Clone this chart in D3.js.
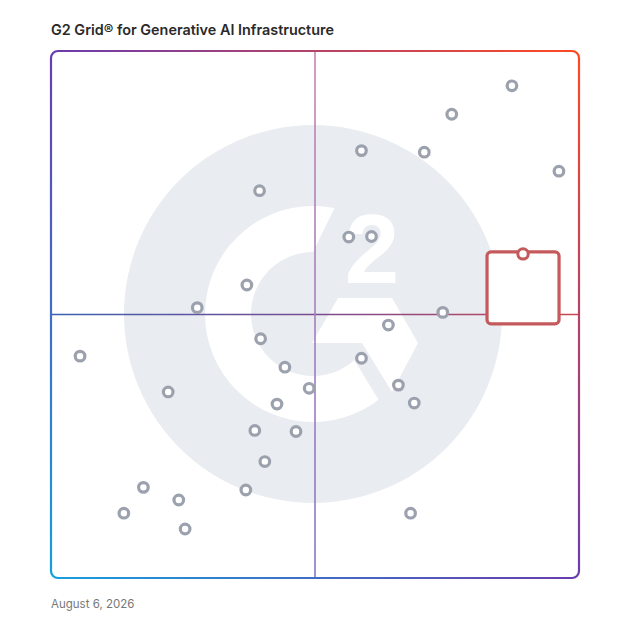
<!DOCTYPE html>
<html>
<head>
<meta charset="utf-8">
<script src="https://cdn.jsdelivr.net/npm/d3@7"></script>
<style>
  html, body { margin: 0; padding: 0; background: #fff; }
  svg { display: block; }
</style>
</head>
<body>
<svg id="grid"></svg>
<script>
// 製品の位置 (0-100, 右が満足度 / 上が市場での存在感)
var productX = [58.8, 70.7, 39.5, 56.4, 60.7, 37.1, 27.7, 74.2, 63.9, 39.7,
                58.8, 44.3, 22.2, 48.9, 65.8, 68.8, 42.8, 38.6, 46.4, 40.5,
                17.5, 36.9, 24.2, 13.8, 68.1, 87.3, 75.9, 96.2, 5.5, 25.4];
var productY = [81.1, 80.8, 73.5, 64.7, 64.8, 55.6, 51.3, 50.4, 48.0, 45.4,
                41.7, 40.0, 35.3, 36.0, 36.6, 33.2, 33.0, 28.0, 27.8, 22.1,
                17.2, 16.7, 14.8, 12.3, 12.3, 93.4, 88.0, 77.2, 42.1, 9.3];
var highlightX = [89.4];
var highlightY = [61.5];
var titleText = ["G2 Grid\u00ae for Generative AI Infrastructure"];
var dateText = ["August 6, 2026"];

var width = 628;
var height = 628;
// window.top と被らないように名前を変える
var gridLeft = 51, gridRight = 579, gridTop = 51, gridBottom = 578;

var svg = d3.select("#grid")
    .attr("width", width)
    .attr("height", height);

var x = d3.scaleLinear().domain([0, 100]).range([gridLeft, gridRight]);
var y = d3.scaleLinear().domain([0, 100]).range([gridBottom, gridTop]);

var defs = svg.append("defs");

// 枠のグラデーション (左下 → 右上)
var frameGrad = defs.append("linearGradient")
    .attr("id", "frameGrad")
    .attr("gradientUnits", "userSpaceOnUse")
    .attr("x1", gridLeft).attr("y1", gridBottom)
    .attr("x2", gridRight).attr("y2", gridTop);
frameGrad.append("stop").attr("offset", "0%").attr("stop-color", "#169fdc");
frameGrad.append("stop").attr("offset", "50%").attr("stop-color", "#6a3cae");
frameGrad.append("stop").attr("offset", "100%").attr("stop-color", "#ff4a22");

var hGrad = defs.append("linearGradient")
    .attr("id", "hGrad")
    .attr("gradientUnits", "userSpaceOnUse")
    .attr("x1", gridLeft).attr("y1", 0)
    .attr("x2", gridRight).attr("y2", 0);
hGrad.append("stop").attr("offset", "0%").attr("stop-color", "#3b60b2");
hGrad.append("stop").attr("offset", "50%").attr("stop-color", "#7a4b92");
hGrad.append("stop").attr("offset", "100%").attr("stop-color", "#cc4650");

var vGrad = defs.append("linearGradient")
    .attr("id", "vGrad")
    .attr("gradientUnits", "userSpaceOnUse")
    .attr("x1", 0).attr("y1", gridTop)
    .attr("x2", 0).attr("y2", gridBottom);
vGrad.append("stop").attr("offset", "0%").attr("stop-color", "#c487b2");
vGrad.append("stop").attr("offset", "100%").attr("stop-color", "#8577c6");

// 背景のG2ロゴ
var cx = 313, cy = 314;
var logo = svg.append("g");
var logoGray = "#e9ecf0";
logo.append("circle")
    .attr("cx", cx).attr("cy", cy).attr("r", 189)
    .attr("fill", logoGray);
logo.append("path")
    .attr("transform", "translate(" + cx + "," + cy + ")")
    .attr("d", d3.arc().innerRadius(62).outerRadius(108).startAngle(0).endAngle(Math.PI * 2)())
    .attr("fill", "#fff");
// Gの切れ目
logo.append("polygon")
    .attr("points", "308,262 341,195 460,195 460,430 391,420 336,330")
    .attr("fill", logoGray);
logo.append("polygon")
    .attr("points", "338,298 392,298 418,343 392,392 362,343 312,343")
    .attr("fill", "#fff");
logo.append("text")
    .attr("x", 372)
    .attr("y", 283)
    .attr("text-anchor", "middle")
    .attr("font-family", "Liberation Sans, Arial, sans-serif")
    .attr("font-weight", "bold")
    .attr("font-size", "98px")
    .attr("fill", "#fff")
    .text("2");

// 十字線
svg.append("line")
    .attr("x1", gridLeft).attr("x2", gridRight)
    .attr("y1", y(50)).attr("y2", y(50))
    .attr("stroke", "url(#hGrad)")
    .attr("stroke-width", 1.6);
svg.append("line")
    .attr("x1", x(50)).attr("x2", x(50))
    .attr("y1", gridTop).attr("y2", gridBottom)
    .attr("stroke", "url(#vGrad)")
    .attr("stroke-width", 1.6);

// 枠
svg.append("rect")
    .attr("x", gridLeft).attr("y", gridTop)
    .attr("width", gridRight - gridLeft).attr("height", gridBottom - gridTop)
    .attr("rx", 7).attr("ry", 7)
    .attr("fill", "none")
    .attr("stroke", "url(#frameGrad)")
    .attr("stroke-width", 2.2);

// 製品の点
var points = d3.range(productX.length).map(function (i) {
    return { x: productX[i], y: productY[i] };
});
svg.selectAll(".product")
    .data(points)
    .enter()
    .append("circle")
    .attr("class", "product")
    .attr("cx", function (d) { return x(d.x); })
    .attr("cy", function (d) { return y(d.y); })
    .attr("r", 4.8)
    .attr("fill", "#fff")
    .attr("stroke", "#9ca1ae")
    .attr("stroke-width", 3.2);

// 注目の製品 (赤い枠)
var hl = { x: highlightX[0], y: highlightY[0] };
var boxSize = 72;
svg.append("rect")
    .attr("x", x(hl.x) - boxSize / 2)
    .attr("y", y(hl.y) - 2)
    .attr("width", boxSize)
    .attr("height", boxSize)
    .attr("rx", 4).attr("ry", 4)
    .attr("fill", "#fff")
    .attr("stroke", "#c45a5c")
    .attr("stroke-width", 3.2);
svg.append("circle")
    .attr("cx", x(hl.x))
    .attr("cy", y(hl.y))
    .attr("r", 5.2)
    .attr("fill", "#fff")
    .attr("stroke", "#c45a5c")
    .attr("stroke-width", 3);

// タイトルと日付
svg.append("text")
    .attr("x", gridLeft)
    .attr("y", 35)
    .attr("font-family", "Inter, sans-serif")
    .attr("font-weight", 600)
    .attr("font-size", "14.4px")
    .attr("fill", "#2a2a2a")
    .text(titleText[0]);
svg.append("text")
    .attr("x", gridLeft)
    .attr("y", 608)
    .attr("font-family", "Inter, sans-serif")
    .attr("font-size", "11.5px")
    .attr("fill", "#777")
    .text(dateText[0]);
</script>
</body>
</html>
